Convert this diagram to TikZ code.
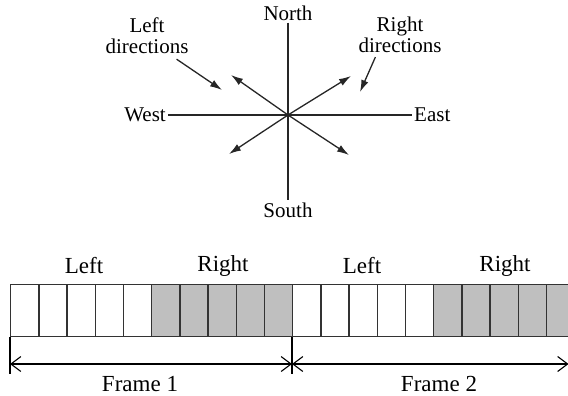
\documentclass[tikz,border=0pt]{standalone}
\usepackage{fontspec}
\setmainfont{Liberation Serif}
\usetikzlibrary{positioning,arrows.meta}

\begin{document}
\begin{tikzpicture}[
    x=1pt, y=-1pt,
    compass/.style={font=\fontsize{21}{23}\selectfont, inner sep=2pt},
    dirlbl/.style={font=\fontsize{21}{21}\selectfont, align=center, inner sep=1pt},
    framelbl/.style={font=\fontsize{23}{25}\selectfont, inner sep=1pt},
    axis/.style={line width=1.3pt, draw=black!85},
    arr/.style={-{Latex[length=12pt,width=7.5pt]}, line width=1.3pt, draw=black!85},
    cell/.style={draw=black!80, line width=1.3pt, minimum width=28.2pt,
                 minimum height=52pt, inner sep=0pt, anchor=north west},
    dim/.style={{Straight Barb[length=10pt,width=15pt]}-{Straight Barb[length=10pt,width=15pt]},
                line width=1.1pt},
  ]
  \useasboundingbox (0,0) rectangle (568,396);
  \clip (0,0) rectangle (568,396);

  % Compass
  \coordinate (c) at (288,115);
  \node[compass] (north) at (288,13) {North};
  \node[compass] (south) at (288,210) {South};
  \node[compass, anchor=east] (west) at (168,115) {West};
  \node[compass, anchor=west] (east) at (412,115) {East};
  \draw[axis] (north) -- (south);
  \draw[axis] (west) -- (east);

  \coordinate (nw) at (231,75);
  \coordinate (ne) at (351,76);
  \coordinate (sw) at (229,154);
  \coordinate (se) at (349,155);
  \draw[arr] (c) -- (nw);
  \draw[arr] (c) -- (ne);
  \draw[arr] (c) -- (sw);
  \draw[arr] (c) -- (se);

  % Direction labels
  \node[dirlbl] (leftdir) at (147,36) {Left\\directions};
  \node[dirlbl] (rightdir) at (400,35) {Right\\directions};
  \coordinate (lhead) at (222,90);
  \coordinate (rhead) at (360,92);
  \draw[arr] ([shift={(-13,4)}]leftdir.south east) -- (lhead);
  \draw[arr] ([shift={(18,3)}]rightdir.south west) -- (rhead);

  % Frame strip
  \foreach \i in {0,...,19} {
    \pgfmathtruncatemacro{\side}{mod(\i,10)}
    \ifnum\side<5
      \node[cell] (s\i) at ({10+28.2*\i},284) {};
    \else
      \node[cell, fill=black!25] (s\i) at ({10+28.2*\i},284) {};
    \fi
  }

  \node[framelbl] (left1) at (84,266) {Left};
  \node[framelbl] (right1) at (223,266) {Right};
  \node[framelbl] (left2) at (362,266) {Left};
  \node[framelbl] (right2) at (505,266) {Right};

  % Frame extents
  \coordinate (t1) at (10,364);
  \coordinate (t2) at (292,364);
  \coordinate (t3) at (568.5,364);
  \draw[line width=1.1pt] (s0.south west) -- ++(0,37);
  \draw[line width=1.1pt] (s10.south west) -- ++(0,37);
  \draw[dim] (t1) -- (t2);
  \draw[dim] (t2) -- (t3);

  \node[framelbl] (frame1) at (140,384) {Frame 1};
  \node[framelbl] (frame2) at (439,384) {Frame 2};

\end{tikzpicture}
\end{document}
